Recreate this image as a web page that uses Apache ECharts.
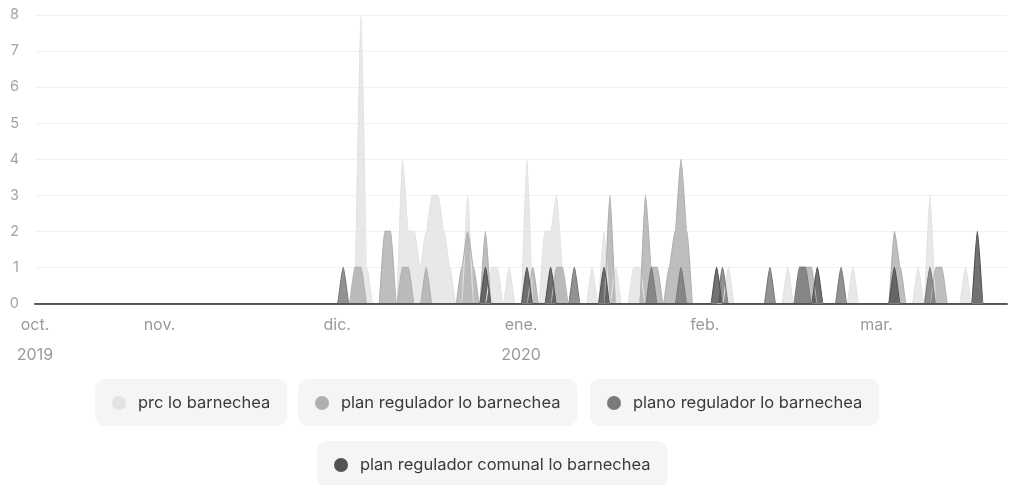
<!DOCTYPE html>
<html>
<head>
<meta charset="utf-8">
<title>lo barnechea</title>
<script src="https://cdn.jsdelivr.net/npm/echarts@6/dist/echarts.min.js"></script>
<style>
    html, body { margin: 0; padding: 0; background: #fff; }
    #chart { width: 1012px; height: 485px; }
</style>
</head>
<body>
<div id="chart"></div>
<script>
var startDay = '2019-10-11';
var dayCount = 165;

var seriesNames = [
    'prc lo barnechea',
    'plan regulador lo barnechea',
    'plano regulador lo barnechea',
    'plan regulador comunal lo barnechea'
];
var seriesColors = ['#e3e3e3', '#b0b0b0', '#7a7a7a', '#535353'];

// only the days with a value, every other day is 0
var prcDays = [
    ['2019-12-04', 1], ['2019-12-05', 8], ['2019-12-06', 1],
    ['2019-12-12', 4], ['2019-12-13', 2], ['2019-12-14', 2], ['2019-12-15', 1],
    ['2019-12-16', 2], ['2019-12-17', 3], ['2019-12-18', 3], ['2019-12-19', 2], ['2019-12-20', 1],
    ['2019-12-23', 3], ['2019-12-27', 1], ['2019-12-28', 1], ['2019-12-30', 1],
    ['2020-01-02', 4], ['2020-01-05', 2], ['2020-01-06', 2], ['2020-01-07', 3], ['2020-01-08', 1],
    ['2020-01-13', 1], ['2020-01-15', 2], ['2020-01-17', 1], ['2020-01-20', 1], ['2020-01-21', 1],
    ['2020-02-05', 1], ['2020-02-15', 1], ['2020-02-26', 1],
    ['2020-03-08', 1], ['2020-03-10', 3], ['2020-03-16', 1]
];
var planDays = [
    ['2019-12-04', 1], ['2019-12-05', 1], ['2019-12-09', 2], ['2019-12-10', 2],
    ['2019-12-12', 1], ['2019-12-13', 1], ['2019-12-16', 1],
    ['2019-12-22', 1], ['2019-12-23', 2], ['2019-12-24', 1], ['2019-12-26', 2],
    ['2020-01-03', 1], ['2020-01-07', 1], ['2020-01-08', 1],
    ['2020-01-16', 3], ['2020-01-22', 3], ['2020-01-23', 1], ['2020-01-24', 1],
    ['2020-01-26', 1], ['2020-01-27', 2], ['2020-01-28', 4], ['2020-01-29', 2],
    ['2020-02-17', 1], ['2020-02-18', 1], ['2020-02-19', 1],
    ['2020-03-04', 2], ['2020-03-05', 1], ['2020-03-11', 1], ['2020-03-12', 1]
];
var planoDays = [
    ['2019-12-02', 1], ['2020-01-10', 1], ['2020-01-23', 1], ['2020-01-28', 1],
    ['2020-02-04', 1], ['2020-02-12', 1], ['2020-02-17', 1], ['2020-02-18', 1],
    ['2020-02-24', 1], ['2020-03-10', 1]
];
var comunalDays = [
    ['2019-12-26', 1], ['2020-01-02', 1], ['2020-01-06', 1], ['2020-01-15', 1],
    ['2020-02-03', 1], ['2020-02-20', 1], ['2020-03-04', 1], ['2020-03-18', 2]
];

var tickDays = ['2019-10-11', '2019-11-01', '2019-12-01', '2020-01-01', '2020-02-01', '2020-03-01'];
var tickTexts = ['oct.\n2019', 'nov.', 'dic.', 'ene.\n2020', 'feb.', 'mar.'];

function dayList(start, n) {
    var t0 = new Date(start + 'T00:00:00Z').getTime();
    var out = [];
    for (var i = 0; i < n; i++) {
        out.push(new Date(t0 + i * 86400000).toISOString().slice(0, 10));
    }
    return out;
}

function fillDays(days, pairs) {
    var lookup = {};
    pairs.forEach(function (p) { lookup[p[0]] = p[1]; });
    return days.map(function (d) { return lookup[d] || 0; });
}

var days = dayList(startDay, dayCount);
var allPairs = [prcDays, planDays, planoDays, comunalDays];

var legendLeft = [95, 298, 590, 317];
var legendTop = [379, 379, 379, 441];

var chart = echarts.init(document.getElementById('chart'));

var option = {
    animation: false,
    textStyle: { fontFamily: 'Inter' },
    grid: { left: 35, right: 5, top: 15, bottom: 181.5, outerBoundsMode: 'none' },
    legend: seriesNames.map(function (name, i) {
        return {
            data: [name],
            left: legendLeft[i],
            top: legendTop[i],
            icon: 'circle',
            itemWidth: 14,
            itemHeight: 14,
            backgroundColor: '#f5f5f5',
            borderRadius: 10,
            padding: [14, 17, 13, 17],
            textStyle: {
                fontFamily: 'Inter', fontSize: 16.5, lineHeight: 20,
                color: '#3a3a3a', padding: [0, 0, 0, 7]
            }
        };
    }),
    xAxis: {
        type: 'category',
        boundaryGap: false,
        data: days,
        axisLine: { lineStyle: { color: '#5e5e5e', width: 2 } },
        axisTick: { show: false },
        splitLine: { show: false },
        axisLabel: {
            interval: function (index, value) { return tickDays.indexOf(value) >= 0; },
            formatter: function (value) { return tickTexts[tickDays.indexOf(value)]; },
            color: '#9a9a9a',
            fontSize: 16,
            lineHeight: 30,
            margin: 7
        }
    },
    yAxis: {
        type: 'value',
        min: 0,
        max: 8,
        interval: 1,
        axisLine: { show: false },
        axisTick: { show: false },
        splitLine: { lineStyle: { color: '#f2f2f2', width: 1 } },
        axisLabel: { color: '#a3a3a3', fontSize: 14.5, margin: 16 }
    },
    series: seriesNames.map(function (name, i) {
        return {
            name: name,
            type: 'line',
            data: fillDays(days, allPairs[i]),
            symbol: 'none',
            smooth: 0.2,
            smoothMonotone: 'x',
            lineStyle: { color: seriesColors[i], width: 1.2 },
            itemStyle: { color: seriesColors[i] },
            areaStyle: { color: seriesColors[i], opacity: 0.82 }
        };
    })
};
chart.setOption(option);
</script>
</body>
</html>
